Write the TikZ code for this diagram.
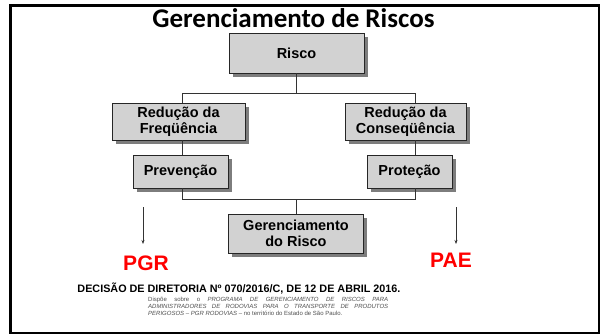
\documentclass[tikz,border=0pt]{standalone}
\usepackage{fontspec}
\setmainfont{Liberation Sans}
\newfontfamily\titulofont{Carlito}
\usepackage{tikz}
\usetikzlibrary{shadows,arrows.meta}

\definecolor{cinzacaixa}{RGB}{210,210,210}
\definecolor{cinzasombra}{RGB}{125,125,125}
\definecolor{vermelhosigla}{RGB}{255,0,0}
\definecolor{cinzatexto}{RGB}{80,80,80}

\tikzset{
  caixa/.style={draw=black!85, line width=0.8pt, fill=cinzacaixa, align=center, inner sep=0pt,
    font=\bfseries\fontsize{14.5}{16}\selectfont,
    drop shadow={shadow xshift=3.5pt, shadow yshift=-3.5pt, fill=cinzasombra, opacity=1}},
  linha/.style={draw=black!80, line width=0.8pt},
  seta/.style={-{Stealth[length=4pt,width=3pt]}, draw=black!80, line width=0.6pt},
  sigla/.style={text=vermelhosigla, anchor=base, font=\bfseries\fontsize{21}{24}\selectfont}
}

\begin{document}
\begin{tikzpicture}[x=1pt, y=-1pt]
\useasboundingbox (0,0) rectangle (605,335);
\fill[white] (0,0) rectangle (605,335);
\draw[line width=2.7pt] (10.5,5.5) rectangle (599,333);

% titulo
\node[anchor=base, font=\titulofont\bfseries\fontsize{27}{30}\selectfont](titulo) at (293.5,27.5) {Gerenciamento de Riscos};

% caixas
\node[caixa, minimum width=135pt, minimum height=40pt](risco) at (296.5,53) {Risco};
\node[caixa, minimum width=133pt, minimum height=37pt](redfreq) at (178.5,121.5) {Redução da\\Freqüência};
\node[caixa, minimum width=121pt, minimum height=37pt](redcons) at (405.5,121.5) {Redução da\\Conseqüência};
\node[caixa, minimum width=95pt, minimum height=33pt](prev) at (180.5,171.5) {Prevenção};
\node[caixa, minimum width=85pt, minimum height=33pt](prot) at (409.5,171.5) {Proteção};
\node[caixa, minimum width=135pt, minimum height=39pt](ger) at (296,233.5) {Gerenciamento\\do Risco};

% ligacoes
\coordinate (ramoesq) at (182,93);
\coordinate (ramodir) at (415,93);
\coordinate (baseesq) at (182,199);
\coordinate (basedir) at (415,199);

\draw[linha] (risco.south) -- (risco.south |- ramoesq);
\draw[linha] (ramoesq |- redfreq.north) -- (ramoesq) -- (ramodir) -- (ramodir |- redcons.north);
\draw[linha] (ramoesq |- redfreq.south) -- (ramoesq |- prev.north);
\draw[linha] (ramodir |- redcons.south) -- (ramodir |- prot.north);
\draw[linha] (baseesq |- prev.south) -- (baseesq) -- (basedir) -- (basedir |- prot.south);
\draw[linha] (ger.north) -- (ger.north |- baseesq);

% siglas
\node[sigla](pgr) at (146,270) {PGR};
\node[sigla](pae) at (451,267) {PAE};

\coordinate (setaesq) at (143,207);
\coordinate (pontaesq) at (143,244);
\coordinate (setadir) at (456,207);
\coordinate (pontadir) at (456,244);
\draw[seta] (setaesq) -- (pontaesq);
\draw[seta] (setadir) -- (pontadir);

% decisao
\node[anchor=base, font=\bfseries\fontsize{10.8}{13}\selectfont](decisao) at (239,292) {DECISÃO DE DIRETORIA Nº 070/2016/C, DE 12 DE ABRIL 2016.};
\node[anchor=north west, inner sep=0pt, text width=240pt, align=justify, text=cinzatexto,
  font=\fontsize{6}{6.8}\selectfont](ementa) at (148,297) {Dispõe sobre o \textit{PROGRAMA DE GERENCIAMENTO DE RISCOS PARA}\linebreak \textit{ADMINISTRADORES DE RODOVIAS PARA O TRANSPORTE DE PRODUTOS}\linebreak \textit{PERIGOSOS -- PGR RODOVIAS} -- no território do Estado de São Paulo.};
\end{tikzpicture}
\end{document}
